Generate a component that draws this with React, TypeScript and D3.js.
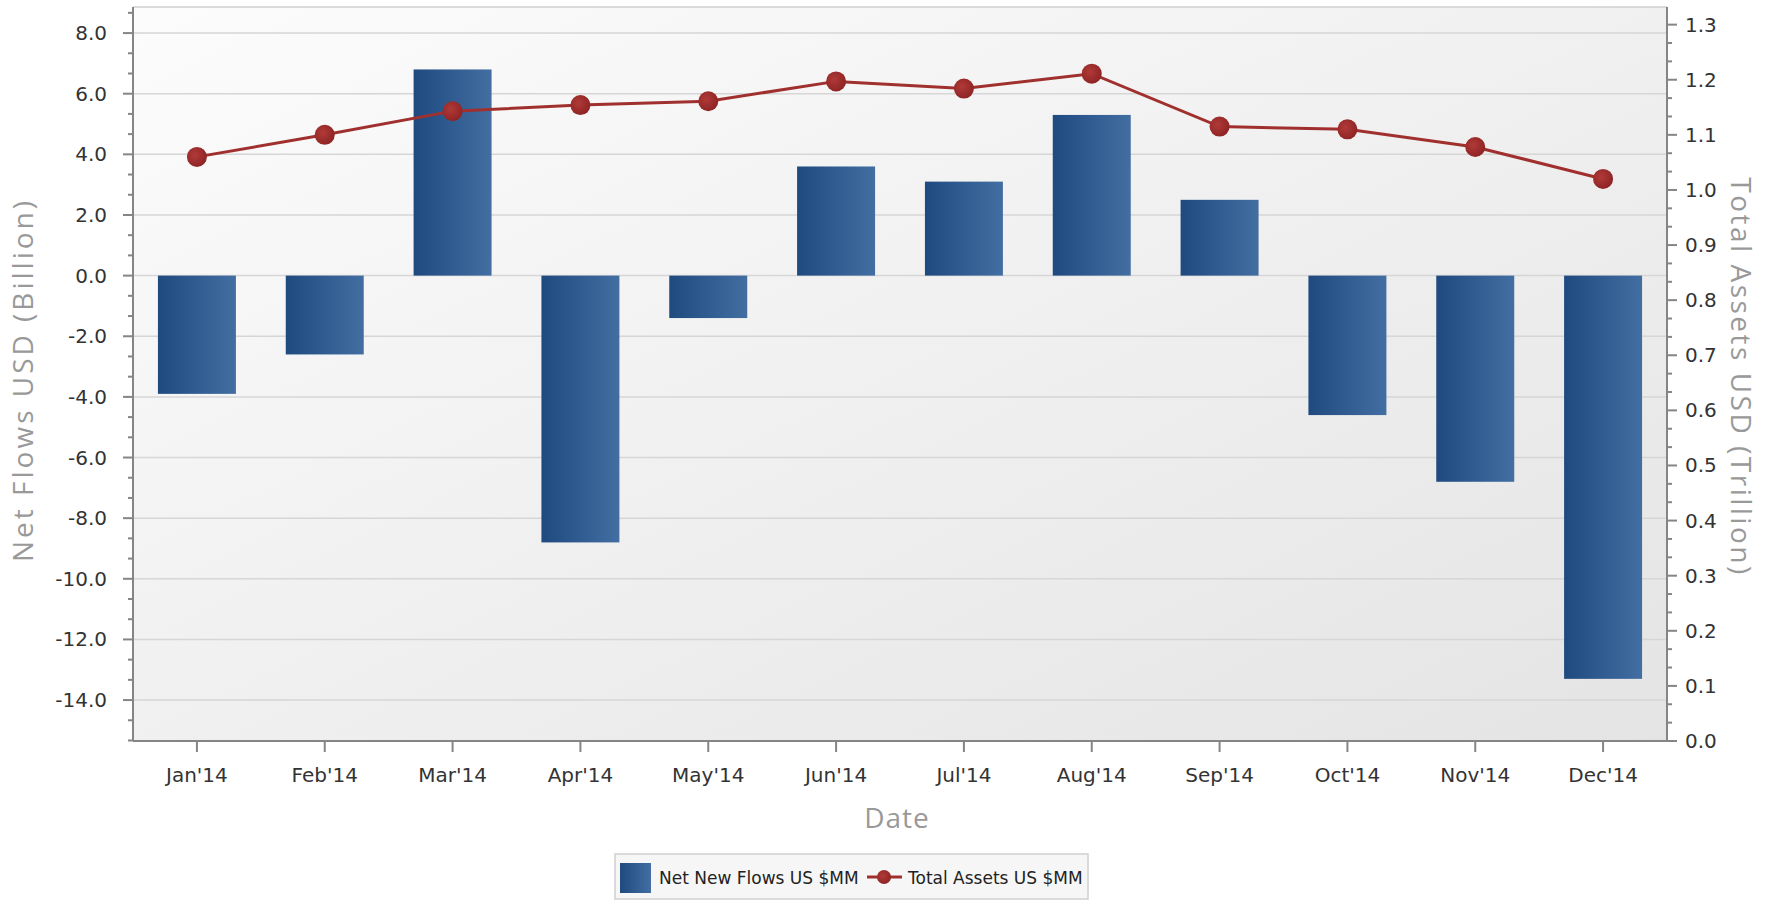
import React from "react";
import * as d3 from "d3";

// data
const months = ["Jan'14", "Feb'14", "Mar'14", "Apr'14", "May'14", "Jun'14", "Jul'14", "Aug'14", "Sep'14", "Oct'14", "Nov'14", "Dec'14"];
const netFlows = [-3.9, -2.6, 6.8, -8.8, -1.4, 3.6, 3.1, 5.3, 2.5, -4.6, -6.8, -13.3];
const totalAssets = [1.06, 1.1, 1.143, 1.154, 1.161, 1.197, 1.184, 1.211, 1.115, 1.11, 1.078, 1.02];
const leftTicks = [8, 6, 4, 2, 0, -2, -4, -6, -8, -10, -12, -14];
const rightTicks = [0, 0.1, 0.2, 0.3, 0.4, 0.5, 0.6, 0.7, 0.8, 0.9, 1.0, 1.1, 1.2, 1.3];

const W = 1775;
const H = 901;
const left = 133;
const right = 1667;
const top = 7;
const bottom = 741;

const font = "'DejaVu Sans', sans-serif";
const titleFont = "'Open Sans', 'DejaVu Sans', sans-serif";

const App = () => {
  const x = d3.scaleBand<string>().domain(months).range([left, right]).padding(0);
  const yL = d3.scaleLinear().domain([-15.35, 8.86]).range([bottom, top]);
  const yR = d3.scaleLinear().domain([0, 1.332]).range([bottom, top]);

  const barW = x.bandwidth() * 0.61;
  const cx = (m: string) => (x(m) as number) + x.bandwidth() / 2;

  const minorL = d3.range(-15.333, 8.86, 2 / 3).filter((v) => !leftTicks.some((t) => Math.abs(t - v) < 0.01));
  const minorR = d3.range(0, 1.332, 0.1 / 3).filter((v) => !rightTicks.some((t) => Math.abs(t - v) < 0.001));

  const line = d3
    .line<number>()
    .x((_, i) => cx(months[i]))
    .y((d) => yR(d));

  return (
    <svg width={W} height={H} style={{ position: "absolute", left: 0, top: 0, background: "#fff" }}>
      <defs>
        <linearGradient id="bg" x1="0" y1="0" x2="1" y2="1">
          <stop offset="0%" stopColor="#fcfcfc" />
          <stop offset="100%" stopColor="#e4e4e4" />
        </linearGradient>
        <linearGradient id="bar" x1="0" y1="0" x2="1" y2="0">
          <stop offset="0%" stopColor="#1f4a80" />
          <stop offset="100%" stopColor="#426ea2" />
        </linearGradient>
        <radialGradient id="dot" cx="0.4" cy="0.4" r="0.6">
          <stop offset="0%" stopColor="#b03a38" />
          <stop offset="100%" stopColor="#8f2525" />
        </radialGradient>
      </defs>

      {/* plot background */}
      <rect x={left} y={top} width={right - left} height={bottom - top} fill="url(#bg)" />
      <line x1={left} x2={right} y1={top} y2={top} stroke="#cfcfcf" strokeWidth={1.5} />

      {/* grid */}
      {leftTicks.map((t) => (
        <line key={"g" + t} x1={left} x2={right} y1={yL(t)} y2={yL(t)} stroke="#d6d6d6" strokeWidth={1.5} />
      ))}

      {/* bars */}
      {netFlows.map((v, i) => (
        <rect
          key={"b" + i}
          x={cx(months[i]) - barW / 2}
          y={Math.min(yL(v), yL(0))}
          width={barW}
          height={Math.abs(yL(v) - yL(0))}
          fill="url(#bar)"
        />
      ))}

      {/* line */}
      <path d={line(totalAssets) as string} fill="none" stroke="#a0302e" strokeWidth={3} />
      {totalAssets.map((v, i) => (
        <circle key={"c" + i} cx={cx(months[i])} cy={yR(v)} r={10} fill="url(#dot)" />
      ))}

      {/* left axis */}
      <line x1={left} x2={left} y1={top} y2={bottom} stroke="#858585" strokeWidth={2} />
      {leftTicks.map((t) => (
        <g key={"l" + t}>
          <line x1={left - 10} x2={left} y1={yL(t)} y2={yL(t)} stroke="#858585" strokeWidth={2} />
          <text x={107} y={yL(t)} dy="0.35em" textAnchor="end" fontFamily={font} fontSize={20} fill="#333">
            {t.toFixed(1)}
          </text>
        </g>
      ))}
      {minorL.map((t, i) => (
        <line key={"lm" + i} x1={left - 5} x2={left} y1={yL(t)} y2={yL(t)} stroke="#858585" strokeWidth={2} />
      ))}

      {/* right axis */}
      <line x1={right} x2={right} y1={top} y2={bottom} stroke="#858585" strokeWidth={2} />
      {rightTicks.map((t) => (
        <g key={"r" + t}>
          <line x1={right} x2={right + 10} y1={yR(t)} y2={yR(t)} stroke="#858585" strokeWidth={2} />
          <text x={1685} y={yR(t)} dy="0.35em" fontFamily={font} fontSize={20} fill="#333">
            {t.toFixed(1)}
          </text>
        </g>
      ))}
      {minorR.map((t, i) => (
        <line key={"rm" + i} x1={right} x2={right + 5} y1={yR(t)} y2={yR(t)} stroke="#858585" strokeWidth={2} />
      ))}

      {/* bottom axis */}
      <line x1={left} x2={right} y1={bottom} y2={bottom} stroke="#858585" strokeWidth={2} />
      {months.map((m) => (
        <g key={m}>
          <line x1={cx(m)} x2={cx(m)} y1={bottom} y2={bottom + 11} stroke="#858585" strokeWidth={2} />
          <text x={cx(m)} y={782} textAnchor="middle" fontFamily={font} fontSize={20} fill="#333">
            {m}
          </text>
        </g>
      ))}

      {/* axis titles */}
      <text x={897} y={828} textAnchor="middle" fontFamily={titleFont} fontSize={28} letterSpacing={1} fill="#999">
        Date
      </text>
      <text
        transform="translate(33,380) rotate(-90)"
        textAnchor="middle"
        fontFamily={titleFont}
        fontSize={28}
        letterSpacing={3}
        fill="#999"
      >
        Net Flows USD (Billion)
      </text>
      <text
        transform="translate(1731,377) rotate(90)"
        textAnchor="middle"
        fontFamily={titleFont}
        fontSize={28}
        letterSpacing={2.5}
        fill="#999"
      >
        Total Assets USD (Trillion)
      </text>

      {/* legend */}
      <rect x={615} y={854} width={473} height={45} fill="#f6f6f6" stroke="#d0d0d0" strokeWidth={1.5} />
      <rect x={620} y={863} width={31} height={30} fill="url(#bar)" />
      <text x={659} y={884} fontFamily={font} fontSize={17} fill="#222">
        Net New Flows US $MM
      </text>
      <line x1={867} x2={902} y1={877} y2={877} stroke="#a0302e" strokeWidth={3} />
      <circle cx={884} cy={877} r={7} fill="url(#dot)" />
      <text x={908} y={884} fontFamily={font} fontSize={17} fill="#222">
        Total Assets US $MM
      </text>
    </svg>
  );
};

export default App;
